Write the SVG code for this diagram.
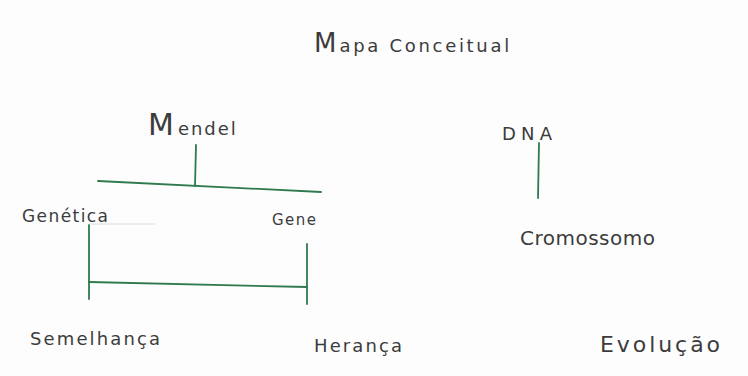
<svg xmlns="http://www.w3.org/2000/svg" width="748" height="376" viewBox="0 0 748 376">
  <style>
    .bg { fill: #fdfdfd; }
    .lbl { font-family: "DejaVu Sans", "Liberation Sans", sans-serif; fill: #3c3c3c; font-weight: normal; }
    .link { stroke: #2f7a4e; stroke-width: 1.8; fill: none; stroke-linecap: round; }
    .faint { stroke: #dcdcdc; stroke-width: 1; fill: none; }
  </style>
  <rect class="bg" x="0" y="0" width="748" height="376"/>

  <g id="title">
    <text class="lbl" x="314" y="52"><tspan font-size="26">M</tspan><tspan font-size="18" dx="3" letter-spacing="2.7">apa Conceitual</tspan></text>
  </g>

  <g id="connectors">
    <!-- Mendel to Genética / Gene -->
    <line class="link" x1="196" y1="145" x2="195" y2="186"/>
    <line class="link" x1="98" y1="181" x2="321" y2="192"/>
    <!-- Genética to Semelhança / Gene to Herança -->
    <line class="link" x1="89" y1="225" x2="89" y2="299"/>
    <line class="link" x1="89" y1="282" x2="307" y2="287"/>
    <line class="link" x1="307" y1="244" x2="307" y2="304"/>
    <!-- DNA to Cromossomo -->
    <line class="link" x1="539" y1="143" x2="538" y2="198"/>
    <line class="faint" x1="89" y1="224" x2="155" y2="224"/>
  </g>

  <g id="node-mendel">
    <text class="lbl" x="148" y="135"><tspan font-size="30">M</tspan><tspan font-size="18" dx="4" letter-spacing="2">endel</tspan></text>
  </g>
  <g id="node-genetica">
    <text class="lbl" x="22" y="222" font-size="17" textLength="86" lengthAdjust="spacing">Genética</text>
  </g>
  <g id="node-gene">
    <text class="lbl" x="272" y="225" font-size="15" textLength="44" lengthAdjust="spacing">Gene</text>
  </g>
  <g id="node-semelhanca">
    <text class="lbl" x="30" y="345" font-size="18" textLength="130" lengthAdjust="spacing">Semelhança</text>
  </g>
  <g id="node-heranca">
    <text class="lbl" x="314" y="352" font-size="18" textLength="88" lengthAdjust="spacing">Herança</text>
  </g>
  <g id="node-dna">
    <text class="lbl" x="502" y="140" font-size="18" textLength="50" lengthAdjust="spacing">DNA</text>
  </g>
  <g id="node-cromossomo">
    <text class="lbl" x="520" y="245" font-size="20" textLength="135" lengthAdjust="spacing">Cromossomo</text>
  </g>
  <g id="node-evolucao">
    <text class="lbl" x="600" y="352" font-size="22" textLength="120" lengthAdjust="spacing">Evolução</text>
  </g>
</svg>
